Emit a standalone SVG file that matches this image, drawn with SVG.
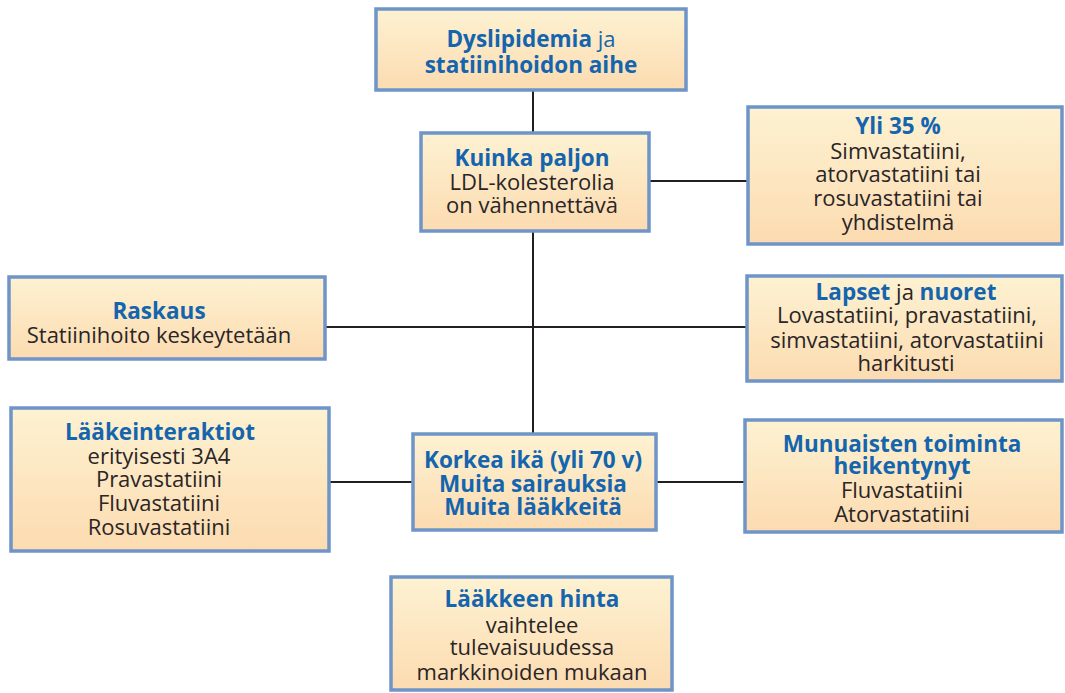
<svg xmlns="http://www.w3.org/2000/svg" width="1065" height="693" viewBox="0 0 1065 693">
<defs>
<linearGradient id="g" x1="0" y1="0" x2="0" y2="1">
<stop offset="0" stop-color="#fdf2d2"/>
<stop offset="1" stop-color="#fcdbb0"/>
</linearGradient>
<style>
.box{fill:url(#g);stroke:#6e94c8;stroke-width:3.5}
text{font-family:"Open Sans","Liberation Sans",sans-serif;font-size:22px;text-anchor:middle;fill:#2a2526}
.t{fill:#1465ae;font-weight:bold;font-size:22.5px}
.b{fill:#1465ae}
.c{stroke:#231f20;stroke-width:2;fill:none}
</style>
</defs>
<rect width="1065" height="693" fill="#ffffff"/>
<g id="connectors">
<line class="c" x1="533" y1="90" x2="533" y2="433"/>
<line class="c" x1="650" y1="181" x2="747" y2="181"/>
<line class="c" x1="326" y1="327" x2="747" y2="327"/>
<line class="c" x1="330" y1="482" x2="413" y2="482"/>
<line class="c" x1="656" y1="482" x2="745" y2="482"/>
</g>
<g id="n1">
<rect class="box" x="376" y="9" width="310" height="81"/>
<text x="531" y="47"><tspan class="t">Dyslipidemia</tspan><tspan class="b"> ja</tspan></text>
<text class="t" x="531" y="73">statiinihoidon aihe</text>
</g>
<g id="n2">
<rect class="box" x="421" y="133" width="228" height="98"/>
<text class="t" x="532" y="166">Kuinka paljon</text>
<text x="532" y="190">LDL-kolesterolia</text>
<text x="532" y="213">on vähennettävä</text>
</g>
<g id="n3">
<rect class="box" x="748" y="107" width="314" height="137"/>
<text class="t" x="898" y="134">Yli 35 %</text>
<text x="898" y="159">Simvastatiini,</text>
<text x="898" y="182">atorvastatiini tai</text>
<text x="898" y="206">rosuvastatiini tai</text>
<text x="898" y="230">yhdistelmä</text>
</g>
<g id="n4">
<rect class="box" x="9" y="277" width="316" height="82"/>
<text class="t" x="159" y="319">Raskaus</text>
<text x="159" y="343">Statiinihoito keskeytetään</text>
</g>
<g id="n5">
<rect class="box" x="747" y="276" width="315" height="105"/>
<text x="906" y="300"><tspan class="t">Lapset</tspan><tspan> ja </tspan><tspan class="t">nuoret</tspan></text>
<text x="907" y="323">Lovastatiini, pravastatiini,</text>
<text x="907" y="348">simvastatiini, atorvastatiini</text>
<text x="906" y="371">harkitusti</text>
</g>
<g id="n6">
<rect class="box" x="11" y="408" width="318" height="143"/>
<text class="t" x="160" y="440">Lääkeinteraktiot</text>
<text x="159" y="464">erityisesti 3A4</text>
<text x="159" y="487">Pravastatiini</text>
<text x="159" y="511">Fluvastatiini</text>
<text x="159" y="535">Rosuvastatiini</text>
</g>
<g id="n7">
<rect class="box" x="413" y="434" width="243" height="96"/>
<text class="t" x="533" y="468">Korkea ikä (yli 70 v)</text>
<text class="t" x="533" y="492">Muita sairauksia</text>
<text class="t" x="533" y="515">Muita lääkkeitä</text>
</g>
<g id="n8">
<rect class="box" x="745" y="420" width="317" height="112"/>
<text class="t" x="902" y="452">Munuaisten toiminta</text>
<text class="t" x="902" y="474">heikentynyt</text>
<text x="902" y="498">Fluvastatiini</text>
<text x="902" y="522">Atorvastatiini</text>
</g>
<g id="n9">
<rect class="box" x="391" y="577" width="281" height="113"/>
<text class="t" x="532" y="607">Lääkkeen hinta</text>
<text x="532" y="633">vaihtelee</text>
<text x="532" y="655">tulevaisuudessa</text>
<text x="532" y="680">markkinoiden mukaan</text>
</g>
</svg>
